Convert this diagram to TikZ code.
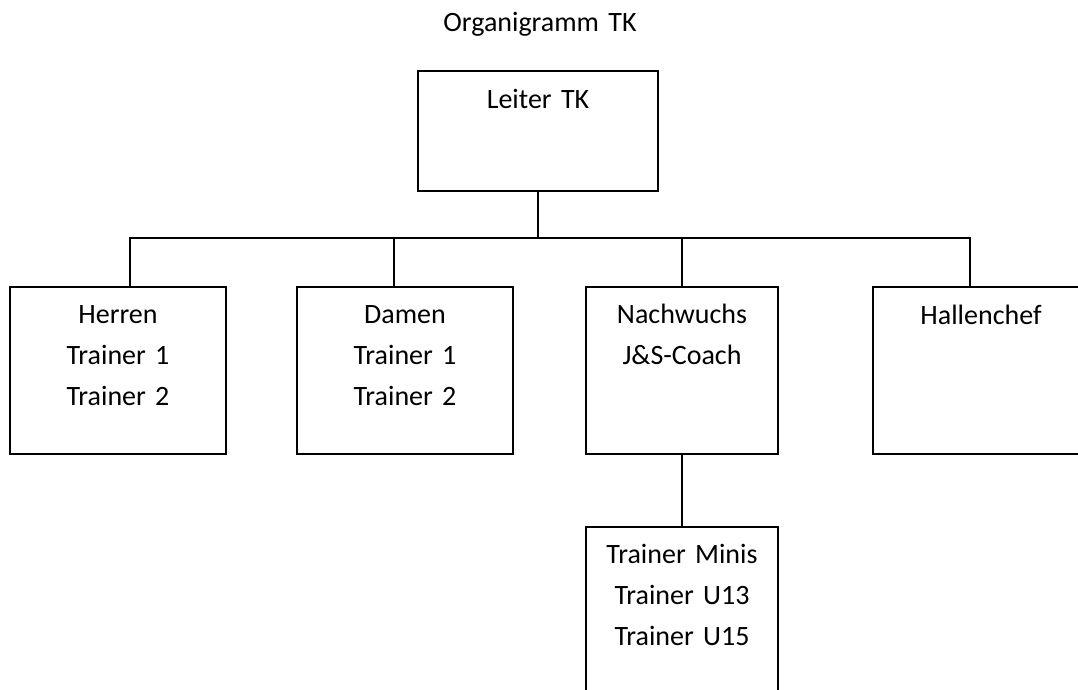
\documentclass[tikz,border=0pt]{standalone}
\usepackage{fontspec}
\setmainfont{Carlito}
\begin{document}
\begin{tikzpicture}[x=1pt,y=-1pt,
    orgbox/.style={draw,line width=2.6pt,minimum height=167pt,inner sep=0pt},
    orgtext/.style={anchor=base,align=center,text width=210pt,inner sep=0pt,
      font=\fontsize{28}{41}\selectfont},
    link/.style={line width=2.6pt}]
  \useasboundingbox (0,0) rectangle (1078,690);
  \clip (0,0) rectangle (1078,690);
  \node[orgtext] (title) at (540,32) {Organigramm TK};
  % boxes
  \node[orgbox,minimum width=240pt,minimum height=120pt] (leiter) at (538,131) {};
  \node[orgbox,minimum width=216pt] (herren) at (118,370.5) {};
  \node[orgbox,minimum width=216pt] (damen) at (405,370.5) {};
  \node[orgbox,minimum width=192pt] (nachwuchs) at (682,370.5) {};
  \node[orgbox,minimum width=216pt] (hallen) at (981,370.5) {};
  \node[orgbox,minimum width=192pt,minimum height=168pt] (minis) at (682,611) {};
  % texts
  \node[orgtext] (leitertext) at ([yshift=-39pt]leiter.north) {Leiter TK};
  \node[orgtext] (herrentext) at ([yshift=-38pt]herren.north) {Herren\\Trainer 1\\Trainer 2};
  \node[orgtext] (damentext) at ([yshift=-38pt]damen.north) {Damen\\Trainer 1\\Trainer 2};
  \node[orgtext] (nachwuchstext) at ([yshift=-38pt]nachwuchs.north) {Nachwuchs\\J\&S-Coach};
  \node[orgtext] (hallentext) at ([yshift=-39pt]hallen.north) {Hallenchef};
  \node[orgtext] (ministext) at ([yshift=-38pt]minis.north) {Trainer Minis\\Trainer U13\\Trainer U15};
  % links
  \coordinate (bus) at (538,238);
  \draw[link] (leiter.south) -- (bus);
  \draw[link] ([xshift=12pt]herren.north) |- (bus) -| ([xshift=-11pt]hallen.north);
  \draw[link] ([xshift=-11pt]damen.north) |- (bus);
  \draw[link] (nachwuchs.north) |- (bus);
  \draw[link] (nachwuchs.south) -- (minis.north);
\end{tikzpicture}
\end{document}
